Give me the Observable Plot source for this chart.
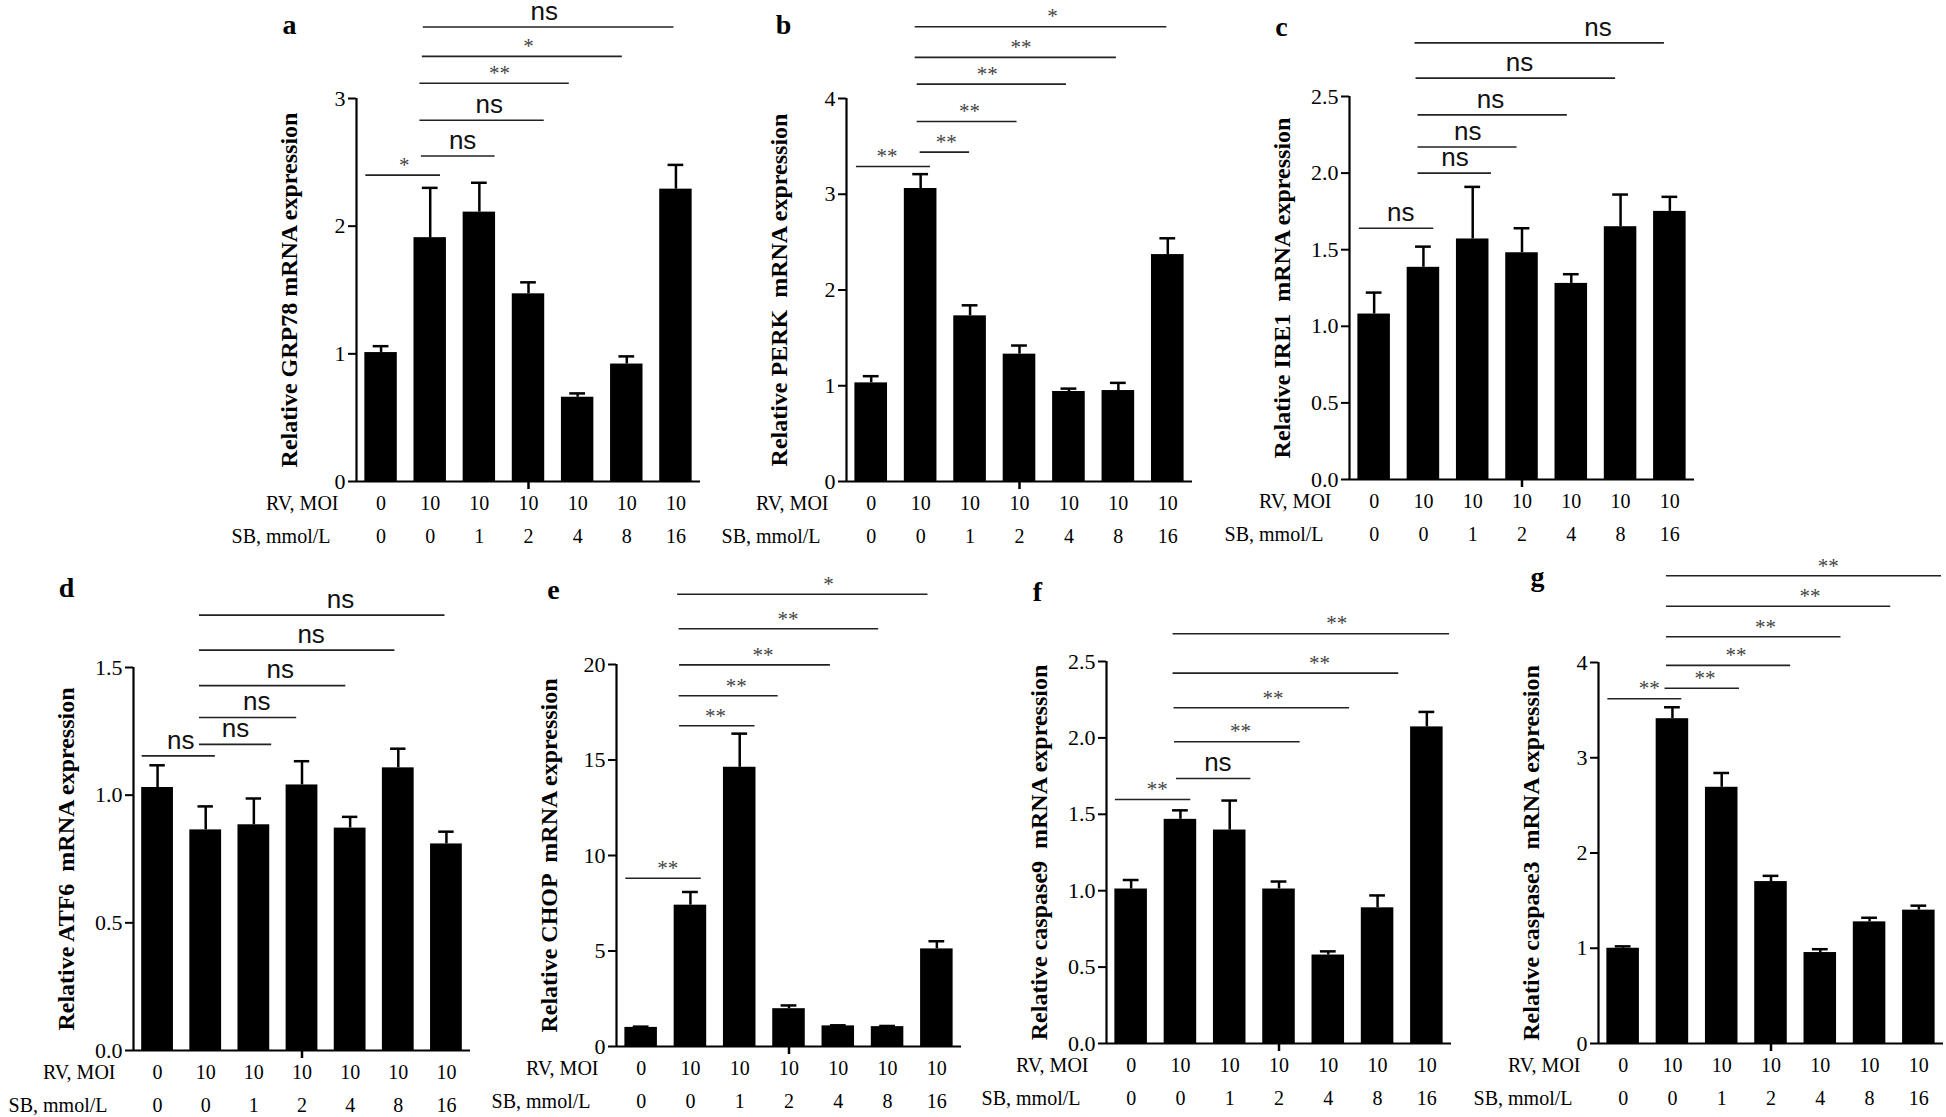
<!DOCTYPE html>
<html>
<head>
<meta charset="utf-8">
<script src="https://cdn.jsdelivr.net/npm/d3@7"></script>
<script src="https://cdn.jsdelivr.net/npm/@observablehq/plot@0.6"></script>
<style>
  html, body { margin: 0; padding: 0; background: #fff; }
  #chart { position: relative; width: 1946px; height: 1117px; overflow: hidden; background: #fff; }
  #chart svg { position: absolute; overflow: visible; background: transparent; }
</style>
</head>
<body>
<div id="chart"></div>
<script>
// ---- categories ----
const groupIndex = [0, 1, 2, 3, 4, 5, 6];
const rvMOI = ["0", "10", "10", "10", "10", "10", "10"];
const sbMmolL = ["0", "0", "1", "2", "4", "8", "16"];

// ---- a: GRP78 ----
const grp78Mean = [1.01, 1.91, 2.11, 1.47, 0.66, 0.92, 2.29];
const grp78Err  = [0.05, 0.39, 0.23, 0.09, 0.03, 0.06, 0.19];
// [from group, to group, height, label, label position]
const grp78Sig = [
  [-0.31, 1.21, 2.40, "*", 0.47],
  [0.82, 2.32, 2.55, "ns", 1.66],
  [0.79, 3.32, 2.83, "ns", 2.20],
  [0.79, 3.83, 3.12, "**", 2.41],
  [0.84, 4.91, 3.33, "*", 3.00],
  [0.86, 5.96, 3.56, "ns", 3.32]
];

// ---- b: PERK ----
const perkMean = [1.03, 3.06, 1.73, 1.33, 0.94, 0.95, 2.37];
const perkErr  = [0.07, 0.15, 0.11, 0.09, 0.03, 0.08, 0.17];
const perkSig = [
  [-0.30, 1.20, 3.29, "**", 0.32],
  [0.99, 1.99, 3.44, "**", 1.52],
  [0.93, 2.95, 3.76, "**", 1.99],
  [0.93, 3.95, 4.15, "**", 2.35],
  [0.89, 4.96, 4.43, "**", 3.03],
  [0.89, 5.98, 4.75, "*", 3.67]
];

// ---- c: IRE1 ----
const ire1Mean = [1.08, 1.385, 1.57, 1.48, 1.28, 1.65, 1.75];
const ire1Err  = [0.14, 0.135, 0.34, 0.16, 0.06, 0.21, 0.095];
const ire1Sig = [
  [-0.30, 1.21, 1.64, "ns", 0.54],
  [0.89, 2.38, 2.00, "ns", 1.64],
  [0.89, 2.90, 2.17, "ns", 1.90],
  [0.89, 3.92, 2.38, "ns", 2.36],
  [0.85, 4.90, 2.62, "ns", 2.95],
  [0.83, 5.89, 2.85, "ns", 4.54]
];

// ---- d: ATF6 ----
const atf6Mean = [1.03, 0.864, 0.884, 1.04, 0.871, 1.107, 0.809];
const atf6Err  = [0.087, 0.092, 0.103, 0.093, 0.044, 0.075, 0.048];
const atf6Sig = [
  [-0.32, 1.20, 1.154, "ns", 0.48],
  [0.87, 2.37, 1.199, "ns", 1.62],
  [0.87, 2.89, 1.304, "ns", 2.06],
  [0.87, 3.91, 1.429, "ns", 2.55],
  [0.87, 4.93, 1.568, "ns", 3.19],
  [0.87, 5.97, 1.705, "ns", 3.80]
];

// ---- e: CHOP ----
const chopMean = [1.0, 7.40, 14.62, 1.98, 1.08, 1.04, 5.11];
const chopErr  = [0.04, 0.69, 1.76, 0.17, 0.03, 0.035, 0.40];
const chopSig = [
  [-0.31, 1.22, 8.81, "**", 0.54],
  [0.78, 2.31, 16.79, "**", 1.51],
  [0.77, 2.78, 18.36, "**", 1.93],
  [0.78, 3.84, 19.98, "**", 2.47],
  [0.77, 4.82, 21.87, "**", 2.98],
  [0.74, 5.82, 23.68, "*", 3.80]
];

// ---- f: caspase9 ----
const casp9Mean = [1.011, 1.467, 1.397, 1.011, 0.579, 0.888, 2.072];
const casp9Err  = [0.059, 0.059, 0.193, 0.049, 0.024, 0.081, 0.098];
const casp9Sig = [
  [-0.32, 1.21, 1.597, "**", 0.53],
  [0.92, 2.43, 1.734, "ns", 1.76],
  [0.88, 3.43, 1.975, "**", 2.22],
  [0.87, 4.43, 2.197, "**", 2.88],
  [0.85, 5.43, 2.424, "**", 3.82],
  [0.85, 6.46, 2.682, "**", 4.17]
];

// ---- g: caspase3 ----
const casp3Mean = [1.0, 3.41, 2.69, 1.70, 0.955, 1.277, 1.40];
const casp3Err  = [0.02, 0.12, 0.15, 0.06, 0.035, 0.043, 0.047];
const casp3Sig = [
  [-0.31, 1.19, 3.62, "**", 0.53],
  [0.85, 2.36, 3.73, "**", 1.66],
  [0.88, 3.40, 3.97, "**", 2.29],
  [0.88, 4.42, 4.27, "**", 2.89],
  [0.88, 5.43, 4.59, "**", 3.79],
  [0.88, 6.46, 4.91, "**", 4.16]
];

// ---- axis ticks ----
const ticksA = [0, 1, 2, 3];
const ticksB = [0, 1, 2, 3, 4];
const ticksC = [0, 0.5, 1, 1.5, 2, 2.5];
const ticksD = [0, 0.5, 1, 1.5];
const ticksE = [0, 5, 10, 15, 20];
const ticksF = [0, 0.5, 1, 1.5, 2, 2.5];
const ticksG = [0, 1, 2, 3, 4];

const fmtInt = d3.format("d");
const fmt1 = d3.format(".1f");

// layout (pixel frame of each panel: left axis, right end, top tick, baseline)
const panels = [
  {letter: "a", title: "Relative GRP78 mRNA expression", mean: grp78Mean, err: grp78Err, sig: grp78Sig, ticks: ticksA, fmt: fmtInt, L: 356, R: 700, T: 98, B: 481, row: 0, ldx: -67, ldy: -73},
  {letter: "b", title: "Relative PERK  mRNA expression", mean: perkMean, err: perkErr, sig: perkSig, ticks: ticksB, fmt: fmtInt, L: 846, R: 1192, T: 98, B: 481, row: 0, ldx: -63, ldy: -73},
  {letter: "c", title: "Relative IRE1  mRNA expression", mean: ire1Mean, err: ire1Err, sig: ire1Sig, ticks: ticksC, fmt: fmt1, L: 1349, R: 1694, T: 96, B: 479, row: 0, ldx: -68, ldy: -69},
  {letter: "d", title: "Relative ATF6  mRNA expression", mean: atf6Mean, err: atf6Err, sig: atf6Sig, ticks: ticksD, fmt: fmt1, L: 133, R: 470, T: 667, B: 1050, row: 1, ldx: -67, ldy: -79},
  {letter: "e", title: "Relative CHOP  mRNA expression", mean: chopMean, err: chopErr, sig: chopSig, ticks: ticksE, fmt: fmtInt, L: 616, R: 961, T: 664, B: 1046, row: 1, ldx: -63, ldy: -74},
  {letter: "f", title: "Relative caspase9  mRNA expression", mean: casp9Mean, err: casp9Err, sig: casp9Sig, ticks: ticksF, fmt: fmt1, L: 1106, R: 1451, T: 661, B: 1043, row: 1, ldx: -69, ldy: -69},
  {letter: "g", title: "Relative caspase3  mRNA expression", mean: casp3Mean, err: casp3Err, sig: casp3Sig, ticks: ticksG, fmt: fmtInt, L: 1598, R: 1943, T: 662, B: 1043, row: 1, ldx: -61, ldy: -85}
];

const xDomain = [-0.5, 6.5];
const serif = "'Liberation Serif', 'Times New Roman', Times, serif";
const sans = "'Liberation Sans', Arial, Helvetica, sans-serif";
const chart = document.getElementById("chart");

function drawPanel(p) {
  const mL = 140, mR = 12, mB = 75;
  const svgTop = p.row === 0 ? 0 : 560;
  const width = mL + (p.R - p.L) + mR;
  const height = (p.B - svgTop) + mB;
  const yMax = p.ticks[p.ticks.length - 1];
  const errTop = i => p.mean[i] + p.err[i];
  const nsSig = p.sig.filter(s => s[3] === "ns");
  const starSig = p.sig.filter(s => s[3] !== "ns");

  const svg = Plot.plot({
    width, height,
    marginLeft: mL, marginRight: mR, marginTop: p.T - svgTop, marginBottom: mB,
    x: {type: "linear", domain: xDomain},
    y: {type: "linear", domain: [0, yMax]},
    marks: [
      // error bars (upper only)
      Plot.ruleX(groupIndex, {x: i => i, y1: i => p.mean[i], y2: errTop, stroke: "#000", strokeWidth: 2.5}),
      Plot.ruleY(groupIndex, {y: errTop, x1: i => i - 0.16, x2: i => i + 0.16, stroke: "#000", strokeWidth: 2.5}),
      // bars
      Plot.rect(groupIndex, {x1: i => i - 0.33, x2: i => i + 0.33, y1: 0, y2: i => p.mean[i], fill: "#000"}),
      // axes lines
      Plot.ruleX([xDomain[0]], {stroke: "#000", strokeWidth: 2.2}),
      Plot.ruleY([0], {stroke: "#000", strokeWidth: 2.2}),
      Plot.axisY({ticks: p.ticks, tickFormat: p.fmt, tickSize: 8, tickPadding: 3, fontSize: 22, strokeWidth: 2, label: null}),
      Plot.axisX({ticks: [3], tickFormat: () => "", tickSize: 8, strokeWidth: 2.5, label: null}),
      // category rows
      Plot.text(groupIndex, {x: i => i, text: i => rvMOI[i], frameAnchor: "bottom", lineAnchor: "middle", dy: 22, fontSize: 20}),
      Plot.text(groupIndex, {x: i => i, text: i => sbMmolL[i], frameAnchor: "bottom", lineAnchor: "middle", dy: 55, fontSize: 20}),
      Plot.text(["RV, MOI"], {text: d => d, frameAnchor: "bottom-left", lineAnchor: "middle", dx: -18, dy: 22, textAnchor: "end", fontSize: 20}),
      Plot.text(["SB, mmol/L"], {text: d => d, frameAnchor: "bottom-left", lineAnchor: "middle", dx: -26, dy: 55, textAnchor: "end", fontSize: 20}),
      // y title
      Plot.text([p.title], {text: d => d, frameAnchor: "left", textAnchor: "middle", lineAnchor: "middle", rotate: -90, dx: -67, fontSize: 24, fontWeight: "bold"}),
      // panel letter
      Plot.text([p.letter], {text: d => d, frameAnchor: "top-left", textAnchor: "middle", lineAnchor: "middle", dx: p.ldx, dy: p.ldy, fontSize: 28, fontWeight: "bold"}),
      // significance brackets
      Plot.ruleY(p.sig, {y: s => s[2], x1: s => s[0], x2: s => s[1], stroke: "#222", strokeWidth: 1.6}),
      Plot.text(nsSig, {x: s => s[4], y: s => s[2], text: s => s[3], dy: -15.5, fontSize: 26, fontFamily: sans, fill: "#111"}),
      Plot.text(starSig, {x: s => s[4], y: s => s[2], text: s => s[3], dy: -10, fontSize: 21, fontFamily: serif, fill: "#444"})
    ]
  });
  svg.style.left = (p.L - mL) + "px";
  svg.style.top = svgTop + "px";
  svg.style.fontFamily = serif;
  svg.style.overflow = "visible";
  svg.style.background = "transparent";
  svg.style.maxWidth = "none";
  chart.appendChild(svg);
}

panels.forEach(drawPanel);
</script>
</body>
</html>
